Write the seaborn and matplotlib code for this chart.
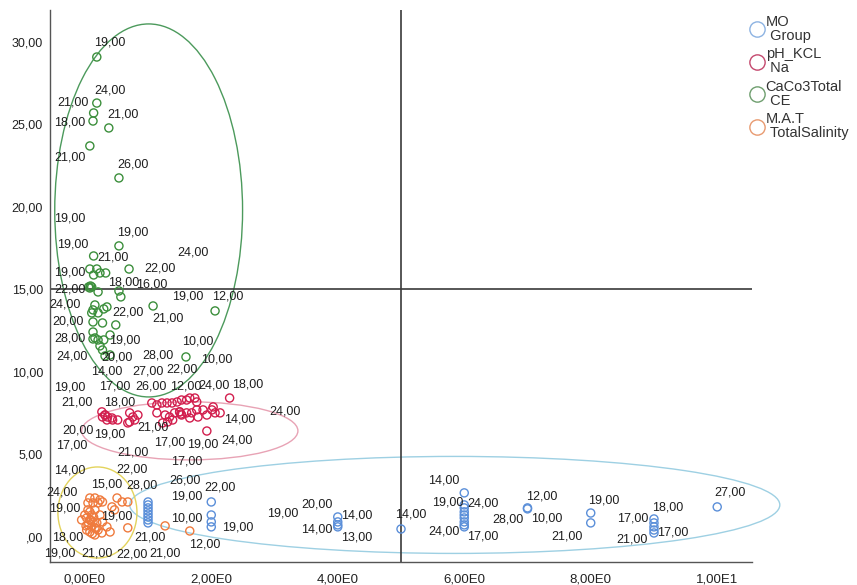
import matplotlib
matplotlib.use("Agg")
import matplotlib.pyplot as plt
from matplotlib.patches import Ellipse
from matplotlib.lines import Line2D
import numpy as np
import pandas as pd
import seaborn as sns

# ---------------------------------------------------------------- data
mo_x = [1, 1, 1, 1, 1, 1, 1, 1, 2, 2, 2, 2, 4, 4, 4, 4, 5,
        6, 6, 6, 6, 6, 6, 6, 6, 6, 7, 7, 8, 8, 9, 9, 9, 9, 9, 10]
mo_y = [2.12, 1.94, 1.76, 1.58, 1.39, 1.21, 1.03, 0.85, 2.12, 1.33, 0.91, 0.61,
        1.21, 0.91, 0.73, 0.61, 0.48,
        2.67, 1.94, 1.76, 1.52, 1.33, 1.15, 0.91, 0.73, 0.61, 1.76, 1.70,
        1.45, 0.85, 1.09, 0.85, 0.61, 0.42, 0.24, 1.82]

ph_x = [0.27, 0.32, 0.36, 0.43, 0.35, 0.44, 0.52, 0.28, 0.71, 0.76, 0.71, 0.79, 0.84,
        0.68, 1.06, 1.14, 1.22, 1.30, 1.38, 1.46, 1.53, 1.61, 1.66, 1.74, 1.77, 1.14,
        1.27, 1.34, 1.42, 1.50, 1.53, 1.61, 1.69, 1.77, 1.87, 1.93, 2.01, 2.06, 2.14,
        2.03, 1.31, 1.39, 1.23, 1.66, 1.79, 1.93, 2.29, 1.50, 1.52, 0.32]
ph_y = [7.58, 7.39, 7.27, 7.21, 7.09, 7.09, 7.09, 7.27, 7.52, 7.27, 6.97, 7.09, 7.39,
        6.91, 8.12, 8.00, 8.12, 8.12, 8.12, 8.18, 8.30, 8.30, 8.42, 8.42, 8.18, 7.52,
        7.39, 7.27, 7.52, 7.58, 7.39, 7.52, 7.52, 7.70, 7.70, 7.39, 7.70, 7.52, 7.52,
        7.88, 6.97, 7.09, 6.91, 7.21, 7.27, 6.42, 8.42, 7.58, 7.45, 7.39]

ca_x = [0.19, 0.19, 0.14, 0.13, 0.38, 0.08, 0.54, 0.54, 0.14, 0.70, 0.08, 0.19, 0.14,
        0.24, 0.33, 0.06, 0.08, 0.09, 0.11, 0.21, 0.54, 0.57, 1.08, 2.06, 0.16, 0.13,
        0.11, 0.21, 0.30, 0.13, 0.28, 0.49, 0.13, 0.13, 0.21, 0.30, 0.40, 0.24, 0.28,
        0.32, 1.60, 0.35, 0.16, 0.40]
ca_y = [29.09, 26.30, 25.70, 25.21, 24.79, 23.70, 21.76, 17.64, 17.03, 16.24, 16.24,
        16.24, 15.88, 16.00, 16.00, 15.15, 15.09, 15.21, 15.15, 14.85, 14.91, 14.55,
        14.00, 13.70, 14.06, 13.76, 13.58, 13.58, 13.82, 13.03, 12.97, 12.85, 12.42,
        12.00, 11.94, 11.94, 12.24, 11.58, 11.33, 10.97, 10.91, 13.94, 12.06, 11.03]

mat_x = [0.08, 0.16, 0.24, 0.28, 0.05, 0.13, 0.21, 0.51, 0.59, 0.68, 0.43, 0.47, 0.08,
         0.16, 0.03, 0.08, 0.13, 0.19, 0.05, 0.11, 0.16, 0.21, 0.03, 0.08, 0.28, 0.35,
         0.40, 0.27, 0.68, 1.27, 1.66, 0.00, -0.05, 0.11, 0.05, 0.24, 0.16, 0.02,
         0.10, 0.14, 0.06, 0.18, 0.12]
mat_y = [2.36, 2.36, 2.24, 2.12, 2.06, 2.06, 2.06, 2.36, 2.12, 2.12, 1.82, 1.64, 1.52,
         1.64, 1.15, 1.03, 0.91, 0.85, 0.73, 0.61, 0.55, 0.42, 0.42, 0.30, 0.91, 0.61,
         0.30, 0.24, 0.55, 0.67, 0.36, 1.33, 1.03, 1.33, 1.64, 1.33, 0.12, 0.67,
         1.00, 1.20, 0.85, 0.50, 0.20]

label_text = ["19,00", "24,00", "21,00", "18,00", "21,00", "21,00", "26,00", "19,00",
              "19,00", "19,00", "24,00", "21,00", "22,00", "19,00", "18,00", "16,00",
              "22,00", "19,00", "12,00", "24,00", "22,00", "21,00", "20,00", "28,00",
              "19,00", "10,00", "24,00", "20,00", "28,00", "10,00", "14,00", "27,00",
              "22,00", "19,00", "17,00", "26,00", "12,00", "24,00", "18,00", "21,00",
              "18,00", "24,00", "14,00", "20,00", "19,00", "21,00", "17,00", "19,00",
              "24,00", "17,00", "21,00", "17,00", "14,00", "22,00", "15,00", "28,00",
              "26,00", "19,00", "22,00", "24,00", "19,00", "19,00", "10,00", "19,00",
              "19,00", "18,00", "21,00", "12,00", "19,00", "21,00", "22,00", "21,00",
              "20,00", "14,00", "14,00", "13,00", "14,00", "14,00", "19,00", "24,00",
              "28,00", "10,00", "12,00", "24,00", "17,00", "21,00", "19,00", "17,00",
              "18,00", "21,00", "17,00", "27,00"]
label_x = [0.40, 0.40, -0.19, -0.24, 0.60, -0.24, 0.76, -0.24, 0.76, -0.19, 1.71, 0.44,
           1.19, -0.24, 0.62, 1.06, -0.24, 1.63, 2.26, -0.32, 0.68, 1.31, -0.27, -0.24,
           0.63, 1.79, -0.21, 0.51, 1.16, 2.09, 0.35, 1.00, 1.53, -0.24, 0.47, 1.04,
           1.59, 2.05, 2.58, -0.13, 0.55, 3.16, 2.45, -0.11, 0.40, 1.08, 1.34, 1.87,
           2.41, -0.21, 0.76, 1.61, -0.24, 0.74, 0.35, 0.90, 1.58, 1.61, 2.14, -0.36,
           -0.32, 0.51, 1.61, 2.42, 3.13, -0.27, 1.03, 1.90, -0.40, 0.19, 0.74, 1.27,
           3.67, 4.30, 3.67, 4.30, 5.16, 5.68, 5.74, 6.30, 6.69, 7.31, 7.23, 5.68, 6.30,
           7.63, 8.20, 8.66, 9.21, 8.66, 9.29, 10.21]
label_y = [29.94, 27.09, 26.36, 25.15, 25.58, 22.97, 22.55, 19.33, 18.48, 17.70, 17.27,
           16.91, 16.30, 16.00, 15.45, 15.33, 14.97, 14.55, 14.55, 14.06, 13.58, 13.27,
           13.03, 12.00, 11.88, 11.82, 10.91, 10.85, 10.97, 10.73, 10.00, 10.00, 10.12,
           9.03, 9.09, 9.09, 9.09, 9.15, 9.21, 8.12, 8.12, 7.58, 7.09, 6.48, 6.18, 6.61,
           5.70, 5.58, 5.82, 5.52, 5.09, 4.55, 4.00, 4.06, 3.15, 3.09, 3.39, 2.48, 2.97,
           2.67, 1.70, 1.21, 1.09, 0.55, 1.45, -0.06, -0.06, -0.48, -1.03, -1.03, -1.09,
           -1.03, 1.94, 1.27, 0.42, -0.06, 1.33, 3.39, 2.06, 2.00, 1.03, 1.09, 2.48, 0.30,
           0.00, 0.00, 2.18, 1.09, 1.76, -0.18, 0.24, 2.67]

series = ["MO\n Group", "pH_KCL\n Na", "CaCo3Total\n CE", "M.A.T\n TotalSalinity"]
xticks = [0, 2, 4, 6, 8, 10]
xtick_labels = ["0,00E0", "2,00E0", "4,00E0", "6,00E0", "8,00E0", "1,00E1"]
yticks = [0, 5, 10, 15, 20, 25, 30]
ytick_labels = [",00", "5,00", "10,00", "15,00", "20,00", "25,00", "30,00"]

# ---------------------------------------------------------------- style
sns.set_theme(style="white")
plt.rcParams["font.family"] = ["Liberation Sans", "DejaVu Sans"]

POINT_COLORS = ["#5b8fd9", "#d21f4e", "#3c8f3c", "#ef7b3e"]
LEGEND_COLORS = ["#8db3e2", "#c4486e", "#6e9e6e", "#e89a70"]

df = pd.concat([
    pd.DataFrame({"x": mo_x, "y": mo_y, "serie": series[0]}),
    pd.DataFrame({"x": ph_x, "y": ph_y, "serie": series[1]}),
    pd.DataFrame({"x": ca_x, "y": ca_y, "serie": series[2]}),
    pd.DataFrame({"x": mat_x, "y": mat_y, "serie": series[3]}),
], ignore_index=True)

fig = plt.figure(figsize=(8.57, 5.85), dpi=100)
ax = fig.add_axes([50 / 857, 23 / 585, 702 / 857, 552 / 585])

for name, col in zip(series, POINT_COLORS):
    sub = df[df["serie"] == name]
    sns.scatterplot(data=sub, x="x", y="y", ax=ax, color=col, facecolor="none",
                    edgecolor=col, linewidth=1.0, s=34, marker="o", legend=False,
                    zorder=3)

# ellipses (concentration contours)
ax.add_patch(Ellipse((1.01, 19.79), 2.97, 22.61, fill=False, ec="#4c9a5c", lw=1.0, clip_on=False))
ax.add_patch(Ellipse((1.66, 6.43), 3.42, 3.52, fill=False, ec="#e8a3b5", lw=1.0, clip_on=False))
ax.add_patch(Ellipse((5.85, 1.94), 10.28, 5.88, fill=False, ec="#9ed0e3", lw=1.0, clip_on=False))
ax.add_patch(Ellipse((0.20, 1.48), 1.25, 5.52, fill=False, ec="#e3d35c", lw=1.0, clip_on=False))

# reference lines
ax.axvline(5, color="#3a3a3a", lw=1.2, zorder=2)
ax.axhline(15, color="#3a3a3a", lw=1.2, zorder=2)

for t, lx, ly in zip(label_text, label_x, label_y):
    ax.text(lx, ly, t, ha="center", va="center", fontsize=9, color="#1e1e1e", zorder=4)

ax.set_xlim(-0.55, 10.55)
ax.set_ylim(-1.52, 31.94)
ax.set_xticks(xticks)
ax.set_xticklabels(xtick_labels)
ax.set_yticks(yticks)
ax.set_yticklabels(ytick_labels)
ax.tick_params(axis="both", length=0, labelsize=9, colors="#222222")
ax.tick_params(axis="x", pad=8, labelsize=9.5)
ax.tick_params(axis="y", pad=5)
ax.set_xlabel("")
ax.set_ylabel("")
sns.despine(ax=ax)
for s in ["left", "bottom"]:
    ax.spines[s].set_color("#555555")
    ax.spines[s].set_linewidth(1.0)

handles = [Line2D([], [], marker="o", ls="none", mfc="none", mec=c, mew=1.0, ms=11)
           for c in LEGEND_COLORS]
leg = fig.legend(handles, series, loc="upper left",
                 bbox_to_anchor=(751 / 857, 1 - 15 / 585),
                 frameon=False, fontsize=10.5, handlelength=0.8, handletextpad=0.2,
                 labelspacing=0.3, borderaxespad=0, borderpad=0)
for txt in leg.get_texts():
    txt.set_linespacing(1.0)
    txt.set_color("#333333")

fig.savefig("out.png", dpi=100)
